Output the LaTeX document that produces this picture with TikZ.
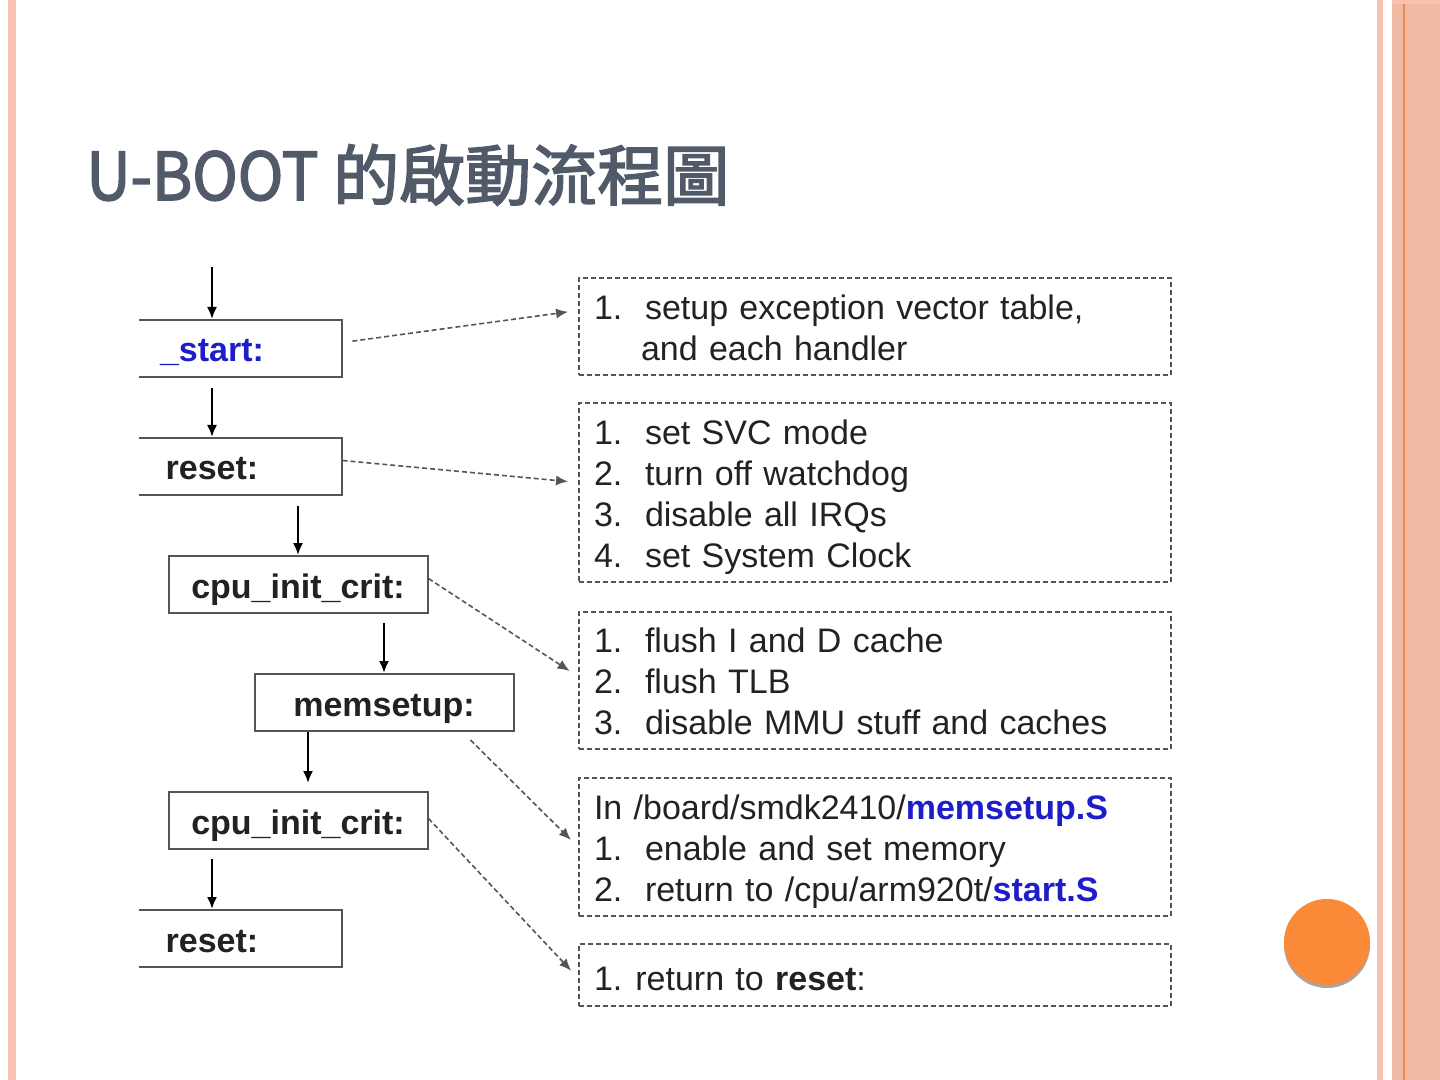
\documentclass[tikz,border=0pt]{standalone}
\usepackage{fontspec}
\setmainfont{Liberation Sans}
\newfontfamily\cjkfont{Noto Sans CJK TC}[BoldFont={Noto Sans CJK TC}, BoldFeatures={FakeBold=2.4}]
\usetikzlibrary{positioning, arrows.meta}

\definecolor{titlegray}{HTML}{515A68}
\definecolor{labelblue}{HTML}{1E1EC8}
\definecolor{textgray}{HTML}{222222}
\definecolor{linegray}{HTML}{555555}
\definecolor{barpink}{HTML}{F9C1B0}
\definecolor{bandpink}{HTML}{F0BAA5}
\definecolor{bandorange}{HTML}{EE8A4E}
\definecolor{dotorange}{HTML}{FA8A38}

\newcommand{\itm}[2]{\makebox[25.5pt][l]{#1}#2}
\newcommand{\blu}[1]{\textcolor{labelblue}{\textbf{#1}}}

\tikzset{
	label box/.style={draw=linegray, line width=1pt, minimum width=129.5pt, minimum height=28.5pt,
		inner sep=0pt, text height=13.5pt, text depth=0pt,
		font=\fontsize{17pt}{20pt}\selectfont\bfseries, text=textgray},
	note box/.style={draw=linegray, dashed, dash pattern=on 2.5pt off 1.5pt, line width=1pt,
		text width=281pt, inner xsep=7.5pt, inner ysep=0pt, align=left,
		font=\fontsize{17pt}{20.5pt}\selectfont, text=textgray},
	push/.style={execute at begin node={\rule{0pt}{#1}}},
	link/.style={->, draw=linegray, dashed, dash pattern=on 2.5pt off 1.5pt, line width=0.8pt,
		shorten >=5pt}
}

\begin{document}
\begin{tikzpicture}[x=0.5pt,y=-0.5pt,node distance=59pt and 43pt,on grid,
	>={Latex[length=6pt,width=5pt]}]
	\useasboundingbox (0,0) rectangle (1440,1080);
	
	% slide decoration
	\fill[barpink] (8,0) rectangle (16,1080);
	\fill[barpink] (1377,0) rectangle (1383,1080);
	\fill[bandpink] (1392,0) rectangle (1440,1080);
	\fill[bandorange] (1403,0) rectangle (1405,1080);
	\fill[barpink] (1392,0) rectangle (1440,4);
	\fill[gray!70] (1327,945) circle (43);
	\fill[dotorange] (1327,942) circle (43);
	
	\node[anchor=base west, inner sep=0pt, text=titlegray, font=\cjkfont\bfseries\fontsize{33pt}{36pt}\selectfont]
		(title) at (86,200) {\scalebox{0.93}[1]{U-BOOT} 的啟動流程圖};
	
	% left column
	\begin{scope}
		\clip (139,0) rectangle (1440,1080);
		\node[label box] (start) at (212,348.5) {\textcolor{labelblue}{\_start:}};
		\node[label box] (reset) [below=of start] {reset:};
		\node[label box] (cpu1) [below right=of reset] {cpu\_init\_crit:};
		\node[label box] (mem) [below right=of cpu1] {memsetup:};
		\node[label box] (cpu2) [below left=of mem] {cpu\_init\_crit:};
		\node[label box] (reset2) [below left=of cpu2] {reset:};
	\end{scope}
	\coordinate (in) at (212,267);
	
	% right column
	\node[note box, push=13.3pt, minimum height=48.5pt] (setup) at (875,326.5)
		{\itm{1.}{setup exception vector table,}\\\hspace*{23.5pt}and each handler};
	\node[note box, push=17.3pt, minimum height=89.5pt] (svc) at (875,492.5)
		{\itm{1.}{set SVC mode}\\\itm{2.}{turn off watchdog}\\\itm{3.}{disable all IRQs}\\\itm{4.}{set System Clock}};
	\node[note box, push=13.3pt, minimum height=68.5pt] (flush) at (875,680.5)
		{\itm{1.}{flush I and D cache}\\\itm{2.}{flush TLB}\\\itm{3.}{disable MMU stuff and caches}};
	\node[note box, push=17.3pt, minimum height=69pt] (memory) at (875,847)
		{In /board/smdk2410/\blu{memsetup.S}\\\itm{1.}{enable and set memory}\\\itm{2.}{return to /cpu/arm920t/\blu{start.S}}};
	\node[note box, push=15.5pt, minimum height=31pt] (back) at (875,975)
		{1.\hspace{-2pt} return to \textbf{reset}:};
	
	\path[->, line width=1pt]
	(in) edge (start)
	(start) edge [shorten <=5pt] (reset)
	(reset.south -| cpu1.north) edge [shorten <=5pt] (cpu1.north)
	(cpu1.south -| mem.north) edge [shorten <=4.5pt] (mem.north)
	([xshift=5pt]mem.south -| cpu2.north) edge [shorten >=4pt] ([xshift=5pt]cpu2.north)
	(cpu2.south -| reset2.north) edge [shorten <=4.5pt] (reset2.north);
	
	\draw[link, shorten <=5pt] ([yshift=3pt]start.east) -- ([yshift=8pt]setup.west);
	\draw[link] ([yshift=3pt]reset.east) -- ([yshift=5pt]svc.west);
	\draw[link] ([yshift=3pt]cpu1.east) -- ([yshift=2pt]flush.west);
	\draw[link] ([xshift=-22pt,yshift=-4pt]mem.south east) -- (memory.west);
	\draw[link] ([yshift=1pt]cpu2.east) -- ([yshift=-1.5pt]back.west);
\end{tikzpicture}
\end{document}
